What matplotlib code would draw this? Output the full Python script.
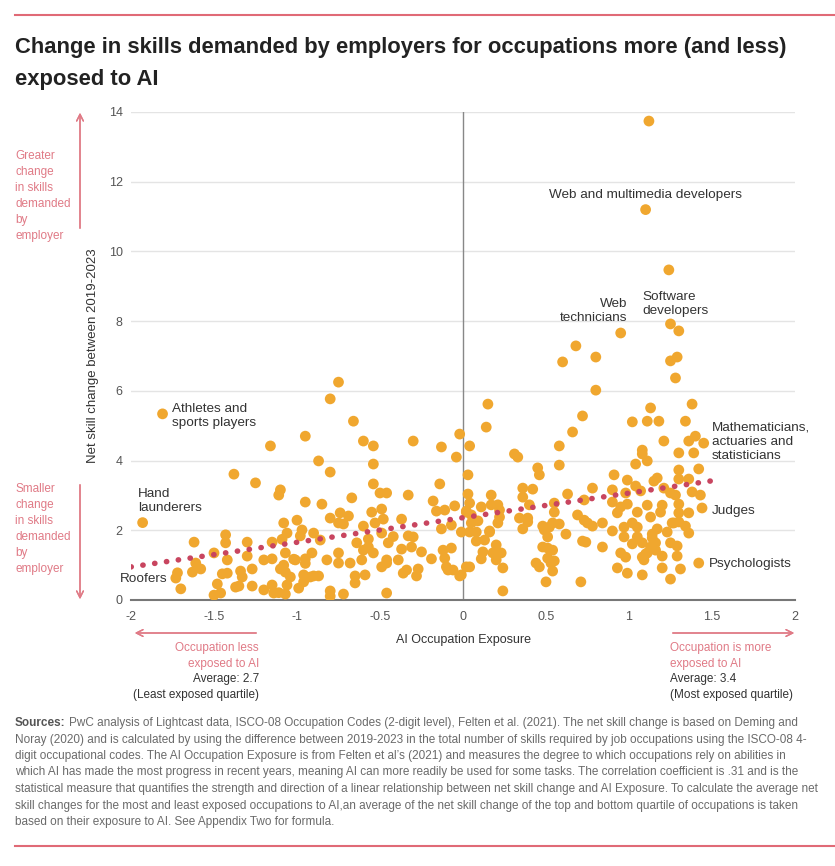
import matplotlib.pyplot as plt
from matplotlib.lines import Line2D
import numpy as np

plt.rcParams['font.family'] = ['Liberation Sans', 'DejaVu Sans']

# AI occupation exposure (x) and net skill change 2019-2023 (y), left half
left_x = [-1.93, -1.81, -1.73, -1.72, -1.70, -1.63, -1.61, -1.58, -1.62, -1.50,
          -1.50, -1.46, -1.48, -1.45, -1.42, -1.43, -1.43, -1.42, -1.38, -1.37,
          -1.35, -1.34, -1.33, -1.30, -1.30, -1.27, -1.27, -1.25, -1.20, -1.20,
          -1.16, -1.15, -1.15, -1.15, -1.14, -1.11, -1.10, -1.10, -1.08, -1.08,
          -1.07, -1.07, -1.07, -1.06, -1.06, -1.04, -1.01, -1.00, -0.99, -0.98,
          -0.97, -0.96, -0.96, -0.95, -0.95, -0.95, -0.92, -0.91, -0.90, -0.90,
          -0.87, -0.87, -0.85, -0.82, -0.80, -0.80, -0.80, -0.80, -0.80, -0.75,
          -0.75, -0.75, -0.75, -0.74, -0.72, -0.72, -0.69, -0.68, -0.67, -0.66,
          -0.65, -0.65, -0.64, -0.61, -0.60, -0.60, -0.60, -0.59, -0.57, -0.57,
          -0.55, -0.54, -0.54, -0.54, -0.54, -0.53, -0.50, -0.49, -0.49, -0.49,
          -0.48, -0.46, -0.46, -0.46, -0.45, -0.46, -0.39, -0.37, -0.37, -0.36,
          -0.34, -0.33, -0.33, -0.31, -0.30, -0.30, -0.28, -0.27, -0.25, -0.19,
          -0.18, -0.16, -0.14, -0.13, -0.13, -0.12, -0.11, -0.11, -0.10, -0.09,
          -0.07, -0.07, -0.06, -0.05, -0.04, -0.02, -0.02, -0.01, 0.02, 0.02,
          -0.01, -1.09, -0.86, -0.42, -1.02, -0.95, -1.11]
left_y = [2.22, 5.34, 0.63, 0.78, 0.32, 0.80, 1.06, 0.89, 1.66, 1.35,
          0.14, 0.20, 0.46, 0.75, 0.77, 1.87, 1.64, 1.15, 3.61, 0.37,
          0.40, 0.83, 0.66, 1.66, 1.26, 0.89, 0.40, 3.36, 0.29, 1.15,
          4.42, 1.66, 1.18, 0.43, 0.20, 3.01, 3.16, 0.89, 1.00, 2.21,
          1.35, 0.80, 0.17, 0.43, 1.92, 0.66, 1.15, 2.29, 0.34, 1.84,
          2.01, 0.72, 0.52, 1.18, 4.70, 2.81, 0.66, 1.35, 1.92, 0.69,
          3.99, 0.69, 2.75, 1.15, 0.26, 0.11, 3.67, 2.35, 5.77, 6.25,
          2.21, 1.35, 1.06, 2.50, 0.17, 2.18, 2.41, 1.06, 2.93, 5.13,
          0.69, 0.49, 1.64, 1.15, 1.43, 4.56, 2.12, 0.72, 1.75, 1.52,
          2.52, 1.35, 3.90, 4.42, 3.33, 2.21, 3.07, 2.61, 1.92, 0.95,
          2.32, 1.06, 3.07, 0.20, 1.64, 1.15, 1.15, 1.46, 2.32, 0.77,
          0.86, 1.84, 3.01, 1.52, 4.56, 1.81, 0.69, 0.89, 1.38, 1.18,
          2.84, 2.55, 3.33, 2.04, 4.39, 1.43, 2.58, 1.20, 0.95, 0.86,
          2.15, 1.49, 0.86, 2.70, 4.10, 0.69, 4.76, 1.95, 2.55, 0.95,
          0.72, 1.74, 1.72, 1.82, 1.17, 1.05, 0.21]

# right half, moderate exposure (0 to 0.84)
mid_x = [0.15, 0.14, 0.68, 0.60, 0.80, 0.80, 0.72, 0.66, 0.58, 0.58,
         0.04, 0.03, 0.03, 0.31, 0.33, 0.45, 0.46, 0.36, 0.42, 0.36,
         0.40, 0.17, 0.17, 0.21, 0.11, 0.04, 0.02, 0.05, 0.05, 0.09,
         0.16, 0.22, 0.22, 0.21, 0.34, 0.39, 0.39, 0.36, 0.55, 0.55,
         0.48, 0.52, 0.54, 0.58, 0.63, 0.69, 0.73, 0.73, 0.75, 0.78,
         0.78, 0.04, 0.08, 0.16, 0.08, 0.13, 0.20, 0.12, 0.11, 0.18,
         0.23, 0.20, 0.24, 0.04, 0.24, 0.49, 0.51, 0.62, 0.48, 0.51,
         0.54, 0.44, 0.46, 0.51, 0.53, 0.55, 0.54, 0.50, 0.71, 0.72,
         0.74]
mid_y = [5.62, 4.96, 7.29, 6.83, 6.97, 6.02, 5.28, 4.82, 4.42, 3.87,
         4.42, 3.59, 3.04, 4.19, 4.10, 3.79, 3.59, 3.21, 3.18, 2.95,
         2.73, 3.01, 2.73, 2.73, 2.67, 2.78, 2.52, 2.44, 2.21, 2.27,
         1.98, 2.58, 2.38, 2.21, 2.35, 2.35, 2.24, 2.04, 2.78, 2.52,
         2.12, 2.09, 2.21, 2.18, 3.04, 2.44, 2.87, 2.29, 2.21, 2.12,
         3.21, 1.95, 1.95, 1.95, 1.69, 1.72, 1.58, 1.38, 1.18, 1.35,
         1.35, 1.15, 0.92, 0.95, 0.26, 2.01, 1.81, 1.89, 1.52, 1.49,
         1.43, 1.06, 0.95, 1.20, 1.06, 1.12, 0.83, 0.52, 0.52, 1.69,
         1.66]

# most exposed occupations (0.84 and above)
high_x = [1.12, 1.10, 1.24, 1.25, 1.30, 0.95, 1.25, 1.29, 1.28,
          1.13, 1.02, 1.11, 1.18, 1.38, 1.34, 1.21, 1.36, 1.40, 1.45,
          1.08, 1.08, 1.04, 1.11, 1.30, 1.39, 1.30, 1.42, 0.91, 1.17,
          1.15, 1.30, 1.36, 0.99, 0.90, 0.98, 1.04, 1.07, 1.21, 1.25,
          1.28, 1.38, 1.43, 1.44, 0.84, 0.90, 0.95, 0.93, 0.99, 1.05,
          1.02, 1.11, 1.13, 1.20, 1.19, 1.30, 1.30, 1.36, 1.26, 1.30,
          1.34, 1.36, 0.84, 0.90, 0.97, 0.97, 1.05, 1.05, 1.08, 1.14,
          1.16, 1.16, 1.23, 1.25, 1.29, 1.02, 0.95, 0.98, 1.08, 1.11,
          1.13, 1.20, 1.29, 0.93, 0.99, 1.08, 1.20, 1.25, 1.31, 1.42,
          1.10, 1.14, 1.17, 1.27, 1.09]
high_y = [13.74, 11.20, 9.47, 7.92, 7.72, 7.66, 6.86, 6.97, 6.37,
          5.51, 5.11, 5.13, 5.13, 5.62, 5.13, 4.56, 4.56, 4.70, 4.50,
          4.30, 4.19, 3.90, 3.99, 4.22, 4.22, 3.73, 3.76, 3.59, 3.50,
          3.41, 3.47, 3.47, 3.44, 3.16, 3.07, 3.27, 3.13, 3.21, 3.07,
          3.01, 3.10, 3.01, 2.64, 2.21, 2.81, 2.67, 2.50, 2.75, 2.52,
          2.21, 2.72, 2.38, 2.72, 2.52, 2.75, 2.50, 2.50, 2.21, 2.24,
          2.12, 1.92, 1.52, 1.98, 2.09, 1.81, 2.09, 1.81, 1.64, 1.89,
          1.64, 1.43, 1.95, 1.64, 1.55, 1.61, 1.35, 1.23, 1.23, 1.35,
          1.52, 1.26, 1.26, 0.92, 0.77, 0.72, 0.92, 0.60, 0.89, 1.06,
          1.32, 1.78, 2.04, 2.21, 1.15]

# linear trend (correlation .31)
trend_x = [-2.0, 1.5]
trend_y = [0.95, 3.42]

x_ticks = [-2, -1.5, -1, -0.5, 0, 0.5, 1, 1.5, 2]
x_ticklabels = ['-2', '-1.5', '-1', '-0.5', '0', '0.5', '1', '1.5', '2']
y_ticks = [0, 2, 4, 6, 8, 10, 12, 14]

# labelled occupations: (text, x, y, ha)
labels = [
    ("Web and multimedia developers", 1.10, 11.62, 'center'),
    ("Web\ntechnicians", 0.99, 8.30, 'right'),
    ("Software\ndevelopers", 1.08, 8.50, 'left'),
    ("Athletes and\nsports players", -1.75, 5.28, 'left'),
    ("Hand\nlaunderers", -1.96, 2.84, 'left'),
    ("Roofers", -2.07, 0.60, 'left'),
    ("Mathematicians,\nactuaries and\nstatisticians", 1.50, 4.53, 'left'),
    ("Judges", 1.50, 2.55, 'left'),
    ("Psychologists", 1.48, 1.03, 'left'),
]

W, H = 835, 866
dot_col = '#f0a72f'
pink = '#e07a86'
txt = '#333333'


def fx(px):
    return px / W


def fy(py):
    return 1 - py / H


fig = plt.figure(figsize=(W / 100, H / 100), dpi=100)
ax = fig.add_axes([fx(131), fy(600), fx(795) - fx(131), fy(112) - fy(600)])

all_x = left_x + mid_x + high_x
all_y = left_y + mid_y + high_y
ax.scatter(all_x, all_y, s=60, color=dot_col, edgecolors='none', zorder=3)
ax.plot(trend_x, trend_y, color='#c8455f', lw=4, linestyle=(0, (0.05, 2.1)),
        dash_capstyle='round', zorder=4)

ax.set_xlim(-2, 2)
ax.set_ylim(0, 14)
ax.set_xticks(x_ticks)
ax.set_xticklabels(x_ticklabels)
ax.set_yticks(y_ticks)
ax.tick_params(axis='x', length=0, labelsize=9, colors='#555555', pad=8)
ax.tick_params(axis='y', length=0, labelsize=9, colors='#555555', pad=6)
ax.grid(axis='y', color='#e4e4e4', lw=1)
ax.set_axisbelow(True)
for s in ['top', 'right', 'left']:
    ax.spines[s].set_visible(False)
ax.spines['bottom'].set_color('#777777')
ax.spines['bottom'].set_linewidth(1.5)
ax.axvline(0, color='#888888', lw=1, zorder=2)
ax.set_xlabel("AI Occupation Exposure", fontsize=9, color=txt, labelpad=8)
ax.set_ylabel("Net skill change between 2019-2023", fontsize=9.5, color=txt, labelpad=7)

for t, lx, ly, ha in labels:
    ax.text(lx, ly, t, ha=ha, va='center', fontsize=9.7, color=txt,
            multialignment=ha if ha != 'center' else 'center', linespacing=1.25,
            clip_on=False, zorder=5)

# title and rules
fig.add_artist(Line2D([fx(15), 1], [fy(15), fy(15)], color='#e06a76', lw=1.5))
fig.add_artist(Line2D([fx(15), 1], [fy(846), fy(846)], color='#e06a76', lw=1.5))
fig.text(fx(15), fy(48), "Change in skills demanded by employers for occupations more (and less)",
         fontsize=15.8, fontweight='bold', color='#222222', va='center')
fig.text(fx(15), fy(80), "exposed to AI",
         fontsize=15.8, fontweight='bold', color='#222222', va='center')

# side notes
fig.text(fx(15), fy(150), "Greater\nchange\nin skills\ndemanded\nby\nemployer",
         fontsize=8.5, color=pink, va='top', linespacing=1.45)
fig.text(fx(15), fy(483), "Smaller\nchange\nin skills\ndemanded\nby\nemployer",
         fontsize=8.5, color=pink, va='top', linespacing=1.45)
arr = dict(arrowstyle='->', color=pink, lw=1, mutation_scale=12)
fig.add_artist(plt.annotate('', xy=(fx(80), fy(110)), xytext=(fx(80), fy(231)),
                            xycoords='figure fraction', arrowprops=arr))
fig.add_artist(plt.annotate('', xy=(fx(80), fy(602)), xytext=(fx(80), fy(482)),
                            xycoords='figure fraction', arrowprops=arr))
fig.add_artist(plt.annotate('', xy=(fx(132), fy(633)), xytext=(fx(259), fy(633)),
                            xycoords='figure fraction', arrowprops=arr))
fig.add_artist(plt.annotate('', xy=(fx(797), fy(633)), xytext=(fx(670), fy(633)),
                            xycoords='figure fraction', arrowprops=arr))

fig.text(fx(259), fy(656), "Occupation less\nexposed to AI", fontsize=8.5, color=pink,
         ha='right', va='center', multialignment='right', linespacing=1.35)
fig.text(fx(259), fy(687), "Average: 2.7\n(Least exposed quartile)", fontsize=8.5, color=txt,
         ha='right', va='center', multialignment='right', linespacing=1.35)
fig.text(fx(670), fy(656), "Occupation is more\nexposed to AI", fontsize=8.5, color=pink,
         ha='left', va='center', linespacing=1.35)
fig.text(fx(670), fy(687), "Average: 3.4\n(Most exposed quartile)", fontsize=8.5, color=txt,
         ha='left', va='center', linespacing=1.35)

# sources
src_lines = [
    "PwC analysis of Lightcast data, ISCO-08 Occupation Codes (2-digit level), Felten et al. (2021). The net skill change is based on Deming and",
    "Noray (2020) and is calculated by using the difference between 2019-2023 in the total number of skills required by job occupations using the ISCO-08 4-",
    "digit occupational codes. The AI Occupation Exposure is from Felten et al\u2019s (2021) and measures the degree to which occupations rely on abilities in",
    "which AI has made the most progress in recent years, meaning AI can more readily be used for some tasks. The correlation coefficient is .31 and is the",
    "statistical measure that quantifies the strength and direction of a linear relationship between net skill change and AI Exposure. To calculate the average net",
    "skill changes for the most and least exposed occupations to AI,an average of the net skill change of the top and bottom quartile of occupations is taken",
    "based on their exposure to AI. See Appendix Two for formula.",
]
src_col = '#6a6a6a'
src_fs = 8.5
bold = fig.text(fx(15), fy(723), "Sources:", fontsize=src_fs, fontweight='bold',
                color='#555555', va='center')
fig.canvas.draw()
bb = bold.get_window_extent()
fig.text((bb.x1 + 3) / W, fy(723), src_lines[0], fontsize=src_fs, color=src_col, va='center')
for i, line in enumerate(src_lines[1:]):
    fig.text(fx(15), fy(723 + 16.5 * (i + 1)), line, fontsize=src_fs, color=src_col, va='center')

plt.savefig('out.png', dpi=100)
plt.close()
